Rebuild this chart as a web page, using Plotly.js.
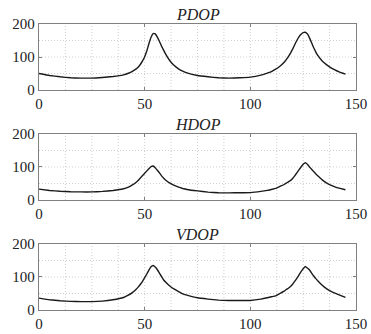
<!DOCTYPE html>
<html><head><meta charset="utf-8">
<script src="https://cdn.plot.ly/plotly-3.0.1.min.js"></script>
<style>html,body{margin:0;padding:0;background:#fff}</style>
</head><body><div id="chart" style="width:371px;height:334px"></div>
<script>
const xVals = [0,5,10,15,20,25,30,35,40,42,44,46,47,48,49,50,51,52,53,54,55,56,57,58,59,60,62,64,66,68,70,75,80,85,90,95,100,105,108,110,112,114,116,117,118,119,120,121,122,123,124,125,126,127,128,129,130,131,132,134,136,138,140,142,145];
const pdop = [50,44,40,37,36,36,38,41,46,50,56,64,70,78,88,101,118,140,160,171,170,160,147,133,120,108,88,74,64,57,52,44,40,37,36,37,39,45,51,56,63,72,84,92,101,112,124,137,150,161,169,174,175,170,158,143,128,115,104,88,77,68,61,55,48];
const hdop = [33,29,26.5,25,24.5,24.5,26,29,34,38,45,54,60,67,74,81,88,95,101,103,98,90,82,73,66,60,51,44,39,35,32,27.5,24,22,21.6,22,22.5,26,29,32,35,41,47,51,55,59,65,73,82,91,100,108,113,108,100,93,86,79,73,61,52,45,40,36,31];
const vdop = [36,31,28,26,25.5,25.5,27,31,38,44,52,63,70,78,87,98,109,121,131,135,130,122,112,101,91,84,72,63,56,49,45,37,33,30,29,29,29,33,37,40,43,50,57,62,66,71,78,87,96,106,116,125,132,127,121,112,103,95,88,75,65,57,51,46,38];
const titles = ['PDOP','HDOP','VDOP'];
const xTicks = [0,50,100,150];
const yTicks = [0,100,200];

const series = [pdop, hdop, vdop];
const traces = series.map((s,i)=>({
  x: xVals, y: s, type:'scatter', mode:'lines',
  line:{color:'#1a1a1a', width:1.4, shape:'spline', smoothing:0.3},
  xaxis: i===0?'x':'x'+(i+1), yaxis: i===0?'y':'y'+(i+1), hoverinfo:'skip'
}));

const fam = "Times New Roman, Liberation Serif, serif";
const font = {family:fam, size:15, color:'#222'};
const domains = [[0.7692,1],[0.3846,0.6154],[0,0.2308]];
const layout = {
  width:371, height:334, showlegend:false,
  margin:{l:39,r:15,t:24,b:24},
  paper_bgcolor:'#fff', plot_bgcolor:'#fff',
  font: font, annotations: [], shapes: []
};
for (let i=0;i<3;i++){
  const sx = i===0?'':String(i+1);
  layout['xaxis'+sx] = {
    domain:[0,1], range:[0,150], anchor:'y'+sx,
    tickvals:xTicks, ticktext:xTicks.map(String), showgrid:false,
    zeroline:false, showline:true, linecolor:'#808080', linewidth:1.3, mirror:'ticks',
    ticks:'inside', ticklen:3, tickcolor:'#808080', tickfont:font, fixedrange:true
  };
  layout['yaxis'+sx] = {
    domain:domains[i], range:[0,200], anchor:'x'+sx,
    tickvals:yTicks, ticktext:yTicks.map(String), showgrid:false,
    zeroline:false, showline:true, linecolor:'#808080', linewidth:1.3, mirror:'ticks',
    ticks:'inside', ticklen:3, tickcolor:'#808080', tickfont:font, fixedrange:true
  };
  for (let gx=12.5; gx<150; gx+=12.5){
    layout.shapes.push({type:'line', xref:'x'+sx, yref:'y'+sx, x0:gx, x1:gx, y0:0, y1:200,
      line:{color:'#cfcfcf', width:1, dash:'1px,2px'}, layer:'below'});
  }
  for (let gy=50; gy<200; gy+=50){
    layout.shapes.push({type:'line', xref:'x'+sx, yref:'y'+sx, x0:0, x1:150, y0:gy, y1:gy,
      line:{color:'#cfcfcf', width:1, dash:'1px,2px'}, layer:'below'});
  }
  layout.annotations.push({
    text:titles[i], xref:'paper', yref:'paper', x:0.5, y:domains[i][1],
    xanchor:'center', yanchor:'bottom', yshift:-1, showarrow:false,
    font:{family:fam, size:16, color:'#222', style:'italic'}
  });
}
Plotly.newPlot('chart', traces, layout, {displayModeBar:false, staticPlot:true});
</script></body></html>
